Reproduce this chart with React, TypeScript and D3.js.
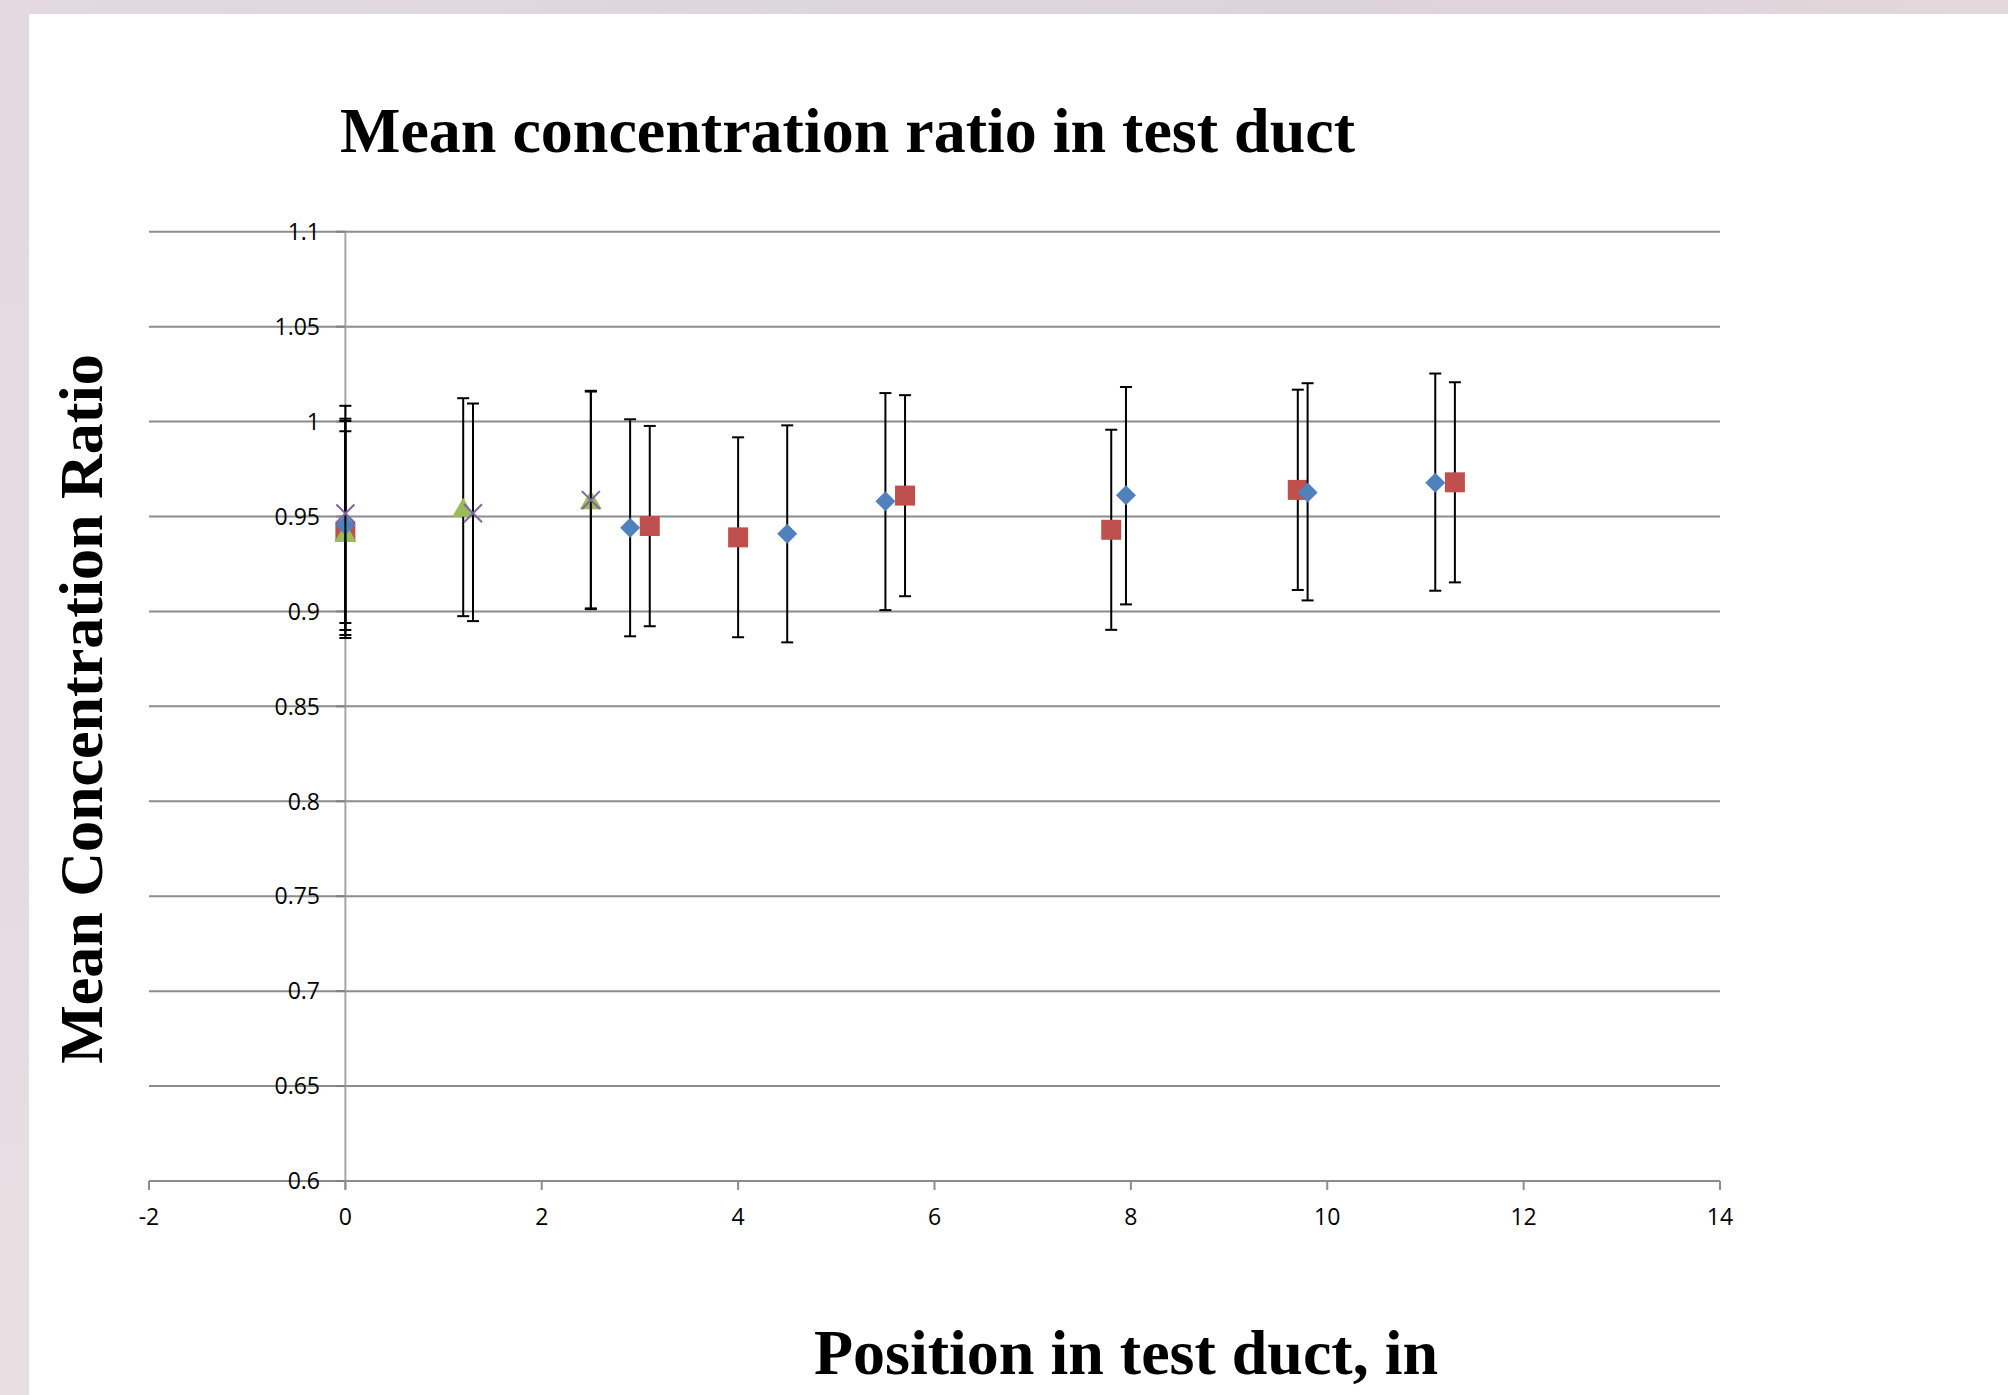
import React from 'react';
import * as d3 from 'd3';

// x positions (in), means and error bar ends
const redX = [0, 3.1, 4.0, 5.7, 7.8, 9.7, 11.3];
const redY = [0.942, 0.945, 0.939, 0.961, 0.943, 0.964, 0.968];
const redHi = [0.9949, 0.9977, 0.9917, 1.0139, 0.9957, 1.0168, 1.0207];
const redLo = [0.886, 0.8922, 0.8864, 0.908, 0.8903, 0.9113, 0.9153];

const greenX = [0, 1.2, 2.5];
const greenY = [0.9413, 0.9546, 0.9586];
const greenHi = [1.0003, 1.0123, 1.0158];
const greenLo = [0.8876, 0.8975, 0.9016];

const blueX = [0, 2.9, 4.5, 5.5, 7.95, 9.8, 11.1];
const blueY = [0.9455, 0.9441, 0.9409, 0.958, 0.9612, 0.9627, 0.9678];
const blueHi = [1.0015, 1.0012, 0.998, 1.015, 1.0182, 1.0202, 1.0253];
const blueLo = [0.8902, 0.8869, 0.8837, 0.9007, 0.9037, 0.9058, 0.9109];

const purpleX = [0, 1.3, 2.5];
const purpleY = [0.9516, 0.9517, 0.9586];
const purpleHi = [1.0083, 1.0095, 1.0162];
const purpleLo = [0.8939, 0.8949, 0.9012];

const xTicks = [-2, 0, 2, 4, 6, 8, 10, 12, 14];
const yTicks = [0.6, 0.65, 0.7, 0.75, 0.8, 0.85, 0.9, 0.95, 1, 1.05, 1.1];

const W = 2008;
const H = 1395;

const x = d3.scaleLinear().domain([-2, 14]).range([149, 1720]);
const y = d3.scaleLinear().domain([0.6, 1.1]).range([1181, 231.7]);

const tickFont = '"Open Sans", "Liberation Sans", sans-serif';
const serif = '"Liberation Serif", "Times New Roman", serif';

type Series = {
  name: string;
  xs: number[];
  ys: number[];
  hi: number[];
  lo: number[];
  color: string;
  shape: 'square' | 'triangle' | 'diamond' | 'x';
};

// drawn in this order so the overlap at x=0 looks like the original
const series: Series[] = [
  { name: 'red', xs: redX, ys: redY, hi: redHi, lo: redLo, color: '#C0504D', shape: 'square' },
  { name: 'green', xs: greenX, ys: greenY, hi: greenHi, lo: greenLo, color: '#9BBB59', shape: 'triangle' },
  { name: 'blue', xs: blueX, ys: blueY, hi: blueHi, lo: blueLo, color: '#4F81BD', shape: 'diamond' },
  { name: 'purple', xs: purpleX, ys: purpleY, hi: purpleHi, lo: purpleLo, color: '#8064A2', shape: 'x' },
];

const Marker = ({ cx, cy, shape, color }: { cx: number; cy: number; shape: Series['shape']; color: string }) => {
  if (shape === 'square') {
    return <rect x={cx - 10} y={cy - 10} width={20} height={20} fill={color} />;
  }
  if (shape === 'triangle') {
    return <path d={`M${cx},${cy - 10}L${cx + 11},${cy + 9}L${cx - 11},${cy + 9}Z`} fill={color} />;
  }
  if (shape === 'diamond') {
    return <path d={`M${cx},${cy - 10}L${cx + 10},${cy}L${cx},${cy + 10}L${cx - 10},${cy}Z`} fill={color} />;
  }
  return (
    <path
      d={`M${cx - 9},${cy - 9}L${cx + 9},${cy + 9}M${cx + 9},${cy - 9}L${cx - 9},${cy + 9}`}
      stroke={color}
      strokeWidth={2}
      fill="none"
    />
  );
};

export default function App() {
  const x0 = x(0);
  return (
    <svg
      width={W}
      height={H}
      style={{ position: 'absolute', left: 0, top: 0, display: 'block' }}
    >
      <defs>
        <linearGradient id="topBand" x1="0" x2="1" y1="0" y2="0">
          <stop offset="0" stopColor="#e3d9de" />
          <stop offset="0.4" stopColor="#dcd7dc" />
          <stop offset="0.7" stopColor="#ddd3d8" />
          <stop offset="1" stopColor="#e2d8dc" />
        </linearGradient>
        <linearGradient id="leftBand" x1="0" x2="0" y1="0" y2="1">
          <stop offset="0" stopColor="#e3d9de" />
          <stop offset="0.5" stopColor="#e5dadf" />
          <stop offset="1" stopColor="#e9dee2" />
        </linearGradient>
      </defs>
      <rect x={0} y={0} width={W} height={H} fill="#ffffff" />
      <rect x={0} y={0} width={W} height={14} fill="url(#topBand)" />
      <rect x={0} y={0} width={29} height={H} fill="url(#leftBand)" />

      {/* gridlines */}
      {yTicks.map((t) => (
        <line key={`g${t}`} x1={x(-2)} x2={x(14)} y1={y(t)} y2={y(t)} stroke="#8c8c8c" strokeWidth={2} />
      ))}
      {/* y axis at x = 0 */}
      <line x1={x0} x2={x0} y1={y(1.1)} y2={y(0.6) + 8} stroke="#a6a6a6" strokeWidth={2} />
      {yTicks.map((t) => (
        <line key={`yt${t}`} x1={x0 - 9} x2={x0} y1={y(t)} y2={y(t)} stroke="#808080" strokeWidth={2} />
      ))}
      {/* x axis ticks */}
      {xTicks.map((t) => (
        <line key={`xt${t}`} x1={x(t)} x2={x(t)} y1={y(0.6)} y2={y(0.6) + 9} stroke="#8c8c8c" strokeWidth={2} />
      ))}

      {/* tick labels */}
      {yTicks.map((t) => (
        <text
          key={`yl${t}`}
          x={320}
          y={y(t)}
          dy="0.36em"
          textAnchor="end"
          fontFamily={tickFont}
          fontSize={23}
          fill="#000"
        >
          {d3.format('~g')(t)}
        </text>
      ))}
      {xTicks.map((t) => (
        <text
          key={`xl${t}`}
          x={x(t)}
          y={y(0.6) + 36}
          dy="0.36em"
          textAnchor="middle"
          fontFamily={tickFont}
          fontSize={23}
          fill="#000"
        >
          {t}
        </text>
      ))}

      {/* series: error bars then markers */}
      {series.map((s) => (
        <g key={s.name}>
          {s.xs.map((xv, i) => {
            const cx = x(xv);
            return (
              <g key={`e${i}`} stroke="#000" strokeWidth={2}>
                <line x1={cx} x2={cx} y1={y(s.hi[i])} y2={y(s.lo[i])} />
                <line x1={cx - 6} x2={cx + 6} y1={y(s.hi[i])} y2={y(s.hi[i])} />
                <line x1={cx - 6} x2={cx + 6} y1={y(s.lo[i])} y2={y(s.lo[i])} />
              </g>
            );
          })}
          {s.xs.map((xv, i) => (
            <Marker key={`m${i}`} cx={x(xv)} cy={y(s.ys[i])} shape={s.shape} color={s.color} />
          ))}
        </g>
      ))}

      {/* titles */}
      <text x={340} y={152} fontFamily={serif} fontWeight="bold" fontSize={64} fill="#000">
        Mean concentration ratio in test duct
      </text>
      <text
        transform={`translate(102, 709) rotate(-90)`}
        textAnchor="middle"
        fontFamily={serif}
        fontWeight="bold"
        fontSize={62}
        fill="#000"
      >
        Mean Concentration Ratio
      </text>
      <text x={1126} y={1374} textAnchor="middle" fontFamily={serif} fontWeight="bold" fontSize={64} fill="#000">
        Position in test duct, in
      </text>
    </svg>
  );
}
